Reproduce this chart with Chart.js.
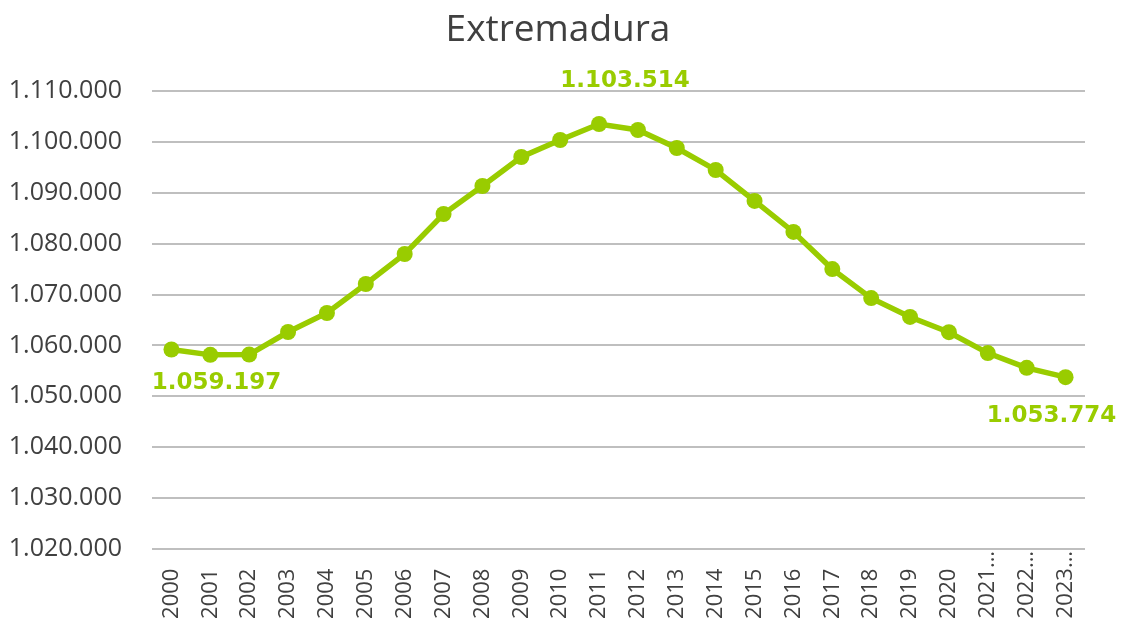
<!DOCTYPE html>
<html><head><meta charset="utf-8">
<script src="https://cdn.jsdelivr.net/npm/chart.js@4/dist/chart.umd.min.js"></script>
<style>html,body{margin:0;padding:0;background:#fff}</style>
</head><body>
<canvas id="c" width="1124" height="621"></canvas>
<script>
const years = ['2000','2001','2002','2003','2004','2005','2006','2007','2008','2009','2010','2011','2012','2013','2014','2015','2016','2017','2018','2019','2020','2021…','2022…','2023…'];
const population = [1059197,1058150,1058200,1062640,1066380,1072070,1077970,1085830,1091330,1097030,1100370,1103514,1102340,1098800,1094480,1088400,1082300,1075000,1069300,1065600,1062600,1058500,1055600,1053774];
const yMin = 1020000, yMax = 1110000, yStep = 10000;
const labeledPoints = [0, 11, 23];
const labelOffsets = {0: [45, 34], 11: [26, -43], 23: [-14, 39]};

const GREEN = '#99CC00';
const fmt = v => Math.round(v).toString().replace(/\B(?=(\d{3})+(?!\d))/g, '.');

const mctx = document.createElement('canvas').getContext('2d');
mctx.font = '22px "Open Sans"';
const ellW = mctx.measureText('…').width;
const spW = mctx.measureText('\u200A').width || 1;
const padStr = '\u200A'.repeat(Math.max(0, Math.round(ellW / spW)));

const dataLabels = {
  id: 'dataLabels',
  afterDatasetsDraw(chart) {
    const meta = chart.getDatasetMeta(0);
    const ctx = chart.ctx;
    ctx.save();
    ctx.font = 'bold 23px "DejaVu Sans"';
    ctx.fillStyle = GREEN;
    ctx.textAlign = 'center';
    ctx.textBaseline = 'middle';
    labeledPoints.forEach(i => {
      const el = meta.data[i];
      const off = labelOffsets[i];
      ctx.fillText(fmt(population[i]), el.x + off[0], el.y + off[1]);
    });
    ctx.restore();
  }
};

new Chart(document.getElementById('c'), {
  type: 'line',
  data: {
    labels: years,
    datasets: [{
      data: population,
      yAxisID: 'y',
      borderColor: GREEN,
      backgroundColor: GREEN,
      borderWidth: 5.5,
      pointRadius: 8,
      pointHoverRadius: 8,
      pointBackgroundColor: GREEN,
      pointBorderColor: GREEN,
      pointBorderWidth: 0,
      tension: 0,
      fill: false
    }]
  },
  options: {
    responsive: false,
    devicePixelRatio: 1,
    animation: false,
    layout: { padding: { left: 0, right: 8, top: 0, bottom: 0 } },
    plugins: {
      legend: { display: false },
      tooltip: { enabled: false },
      title: {
        display: true,
        text: 'Extremadura',
        color: '#404040',
        font: { family: '"Open Sans"', size: 37, weight: 'normal' },
        padding: { top: 8, bottom: 38.6 }
      }
    },
    scales: {
      x: {
        offset: true,
        grid: { display: false, drawTicks: false },
        border: { display: false },
        ticks: {
          color: '#404040',
          font: { family: '"Open Sans"', size: 22 },
          minRotation: 90, maxRotation: 90,
          padding: 2,
          autoSkip: false,
          callback: function(v, i) {
            const l = this.getLabelForValue(v);
            return l.endsWith('…') ? l : l + padStr;
          }
        },
        afterFit(scale) { scale.height = 72; }
      },
      y: {
        min: yMin, max: yMax,
        grid: { color: '#BFBFBF', lineWidth: 2, drawTicks: false },
        border: { display: false },
        ticks: {
          stepSize: yStep,
          color: '#404040',
          font: { family: '"Open Sans"', size: 25 },
          padding: 30,
          callback: v => fmt(v)
        },
        afterFit(scale) { scale.width = 152; }
      },
      ySpacer: {
        type: 'linear',
        position: 'right',
        min: yMin, max: yMax,
        grid: { display: false, drawTicks: false },
        border: { display: false },
        ticks: { display: false },
        afterFit(scale) { scale.width = 31; }
      }
    }
  },
  plugins: [dataLabels]
});
</script>
</body></html>
